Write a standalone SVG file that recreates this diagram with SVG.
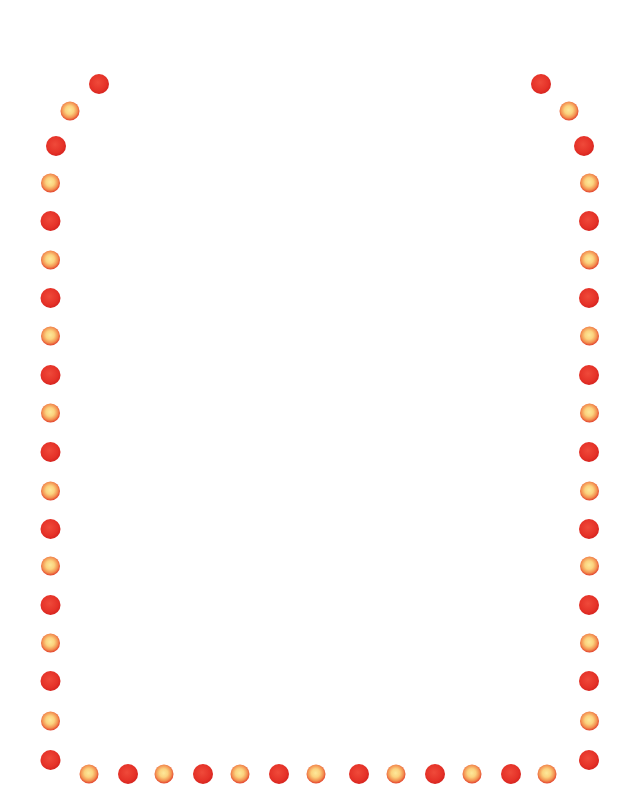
<svg xmlns="http://www.w3.org/2000/svg" xmlns:xlink="http://www.w3.org/1999/xlink" width="640" height="802" viewBox="0 0 640 802">
<defs>
<radialGradient id="gr" cx="45%" cy="42%" r="60%">
<stop offset="0" stop-color="#ef4a3a"/>
<stop offset="0.7" stop-color="#e53228"/>
<stop offset="1" stop-color="#d4221e"/>
</radialGradient>
<radialGradient id="go" cx="48%" cy="45%" r="55%">
<stop offset="0" stop-color="#fde89a"/>
<stop offset="0.4" stop-color="#fbd27e"/>
<stop offset="0.75" stop-color="#f39050"/>
<stop offset="1" stop-color="#e2402c"/>
</radialGradient>
<circle id="r" r="10" fill="url(#gr)"/>
<circle id="o" r="9.5" fill="url(#go)"/>
</defs>
<rect width="640" height="802" fill="#ffffff"/>
<g id="border">
<use xlink:href="#r" x="99" y="84"/>
<use xlink:href="#o" x="70" y="111"/>
<use xlink:href="#r" x="56" y="146"/>
<use xlink:href="#o" x="50.5" y="183"/>
<use xlink:href="#r" x="50.5" y="221"/>
<use xlink:href="#o" x="50.5" y="260"/>
<use xlink:href="#r" x="50.5" y="298"/>
<use xlink:href="#o" x="50.5" y="336"/>
<use xlink:href="#r" x="50.5" y="375"/>
<use xlink:href="#o" x="50.5" y="413"/>
<use xlink:href="#r" x="50.5" y="452"/>
<use xlink:href="#o" x="50.5" y="491"/>
<use xlink:href="#r" x="50.5" y="529"/>
<use xlink:href="#o" x="50.5" y="566"/>
<use xlink:href="#r" x="50.5" y="605"/>
<use xlink:href="#o" x="50.5" y="643"/>
<use xlink:href="#r" x="50.5" y="681"/>
<use xlink:href="#o" x="50.5" y="721"/>
<use xlink:href="#r" x="50.5" y="760"/>
<use xlink:href="#o" x="89" y="774"/>
<use xlink:href="#r" x="128" y="774"/>
<use xlink:href="#o" x="164" y="774"/>
<use xlink:href="#r" x="203" y="774"/>
<use xlink:href="#o" x="240" y="774"/>
<use xlink:href="#r" x="279" y="774"/>
<use xlink:href="#o" x="316" y="774"/>
<use xlink:href="#r" x="359" y="774"/>
<use xlink:href="#o" x="396" y="774"/>
<use xlink:href="#r" x="435" y="774"/>
<use xlink:href="#o" x="472" y="774"/>
<use xlink:href="#r" x="511" y="774"/>
<use xlink:href="#o" x="547" y="774"/>
<use xlink:href="#r" x="589" y="760"/>
<use xlink:href="#o" x="589.5" y="721"/>
<use xlink:href="#r" x="589" y="681"/>
<use xlink:href="#o" x="589.5" y="643"/>
<use xlink:href="#r" x="589" y="605"/>
<use xlink:href="#o" x="589.5" y="566"/>
<use xlink:href="#r" x="589" y="529"/>
<use xlink:href="#o" x="589.5" y="491"/>
<use xlink:href="#r" x="589" y="452"/>
<use xlink:href="#o" x="589.5" y="413"/>
<use xlink:href="#r" x="589" y="375"/>
<use xlink:href="#o" x="589.5" y="336"/>
<use xlink:href="#r" x="589" y="298"/>
<use xlink:href="#o" x="589.5" y="260"/>
<use xlink:href="#r" x="589" y="221"/>
<use xlink:href="#o" x="589.5" y="183"/>
<use xlink:href="#r" x="584" y="146"/>
<use xlink:href="#o" x="569" y="111"/>
<use xlink:href="#r" x="541" y="84"/>
</g>
</svg>
